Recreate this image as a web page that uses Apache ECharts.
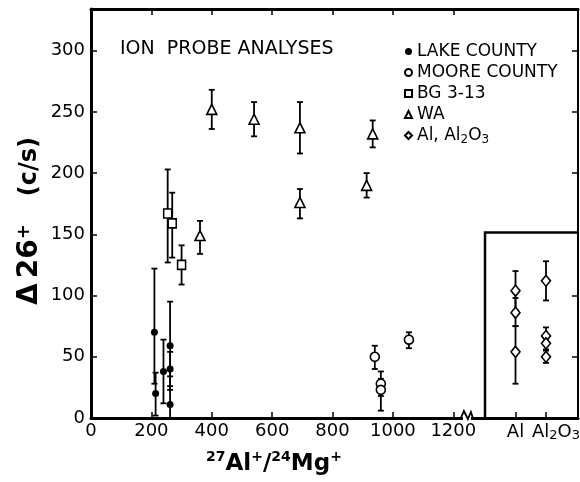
<!DOCTYPE html>
<html><head><meta charset="utf-8">
<script src="https://cdn.jsdelivr.net/npm/echarts@6/dist/echarts.min.js"></script>
<style>html,body{margin:0;padding:0;background:#fff}#c{width:580px;height:482px}</style>
</head><body><div id="c"></div>
<script>
// ---- tick labels / categories ----
const xTickValues = [0, 200, 400, 600, 800, 1000, 1200];
const yTickValues = [0, 50, 100, 150, 200, 250, 300];
const sampleCategories = ['Al', 'Al2O3'];
const sampleCategoryX = [1406, 1507];
const seriesNames = ['LAKE COUNTY', 'MOORE COUNTY', 'BG 3-13', 'WA', 'Al, Al2O3'];

// ---- data: x, value, error low, error high ----
const lakeX  = [210, 214, 240, 262, 262, 262];
const lakeY  = [70, 20, 38, 59, 40, 11];
const lakeLo = [28, 2, 12, 23, 26, 0];
const lakeHi = [122, 37, 64, 95, 54, 34];

const mooreX  = [940, 960, 960, 1053];
const mooreY  = [50, 28, 23, 64];
const mooreLo = [40, 18, 6, 57];
const mooreHi = [59, 38, 32, 70];

const bgX  = [254, 269, 300];
const bgY  = [167, 159, 125];
const bgLo = [127, 131, 109];
const bgHi = [203, 184, 141];

const waX  = [361, 400, 540, 692, 692, 913, 933];
const waY  = [149, 252, 244, 237, 176, 190, 232];
const waLo = [134, 236, 230, 216, 163, 180, 221];
const waHi = [161, 268, 258, 258, 187, 200, 243];

const alX  = [1406, 1406, 1406, 1507, 1507, 1507, 1507];
const alY  = [104, 86, 54, 112, 67, 61, 50];
const alLo = [88, 75, 28, 96, 61, 55, 45];
const alHi = [120, 98, 75, 128, 74, 67, 56];

// ---- frame decoration constants ----
const X_MAX = 1613, Y_MAX = 334;
const BOX_LEFT = 1305, BOX_TOP = 151.5, BREAK_X = 1245;

const FONT = 'DejaVu Sans';
const groups = [
  {name: seriesNames[0], x: lakeX, y: lakeY, lo: lakeLo, hi: lakeHi, symbol: 'circle', size: 7, fill: '#000'},
  {name: seriesNames[1], x: mooreX, y: mooreY, lo: mooreLo, hi: mooreHi, symbol: 'circle', size: 9, fill: '#fff'},
  {name: seriesNames[2], x: bgX, y: bgY, lo: bgLo, hi: bgHi, symbol: 'rect', size: [8, 9], fill: '#fff'},
  {name: seriesNames[3], x: waX, y: waY, lo: waLo, hi: waHi, symbol: 'triangle', size: [10, 10], fill: '#fff'},
  {name: seriesNames[4], x: alX, y: alY, lo: alLo, hi: alHi, symbol: 'diamond', size: [9, 11], fill: '#fff'}
];

const errData = [];
groups.forEach(g => g.x.forEach((x, i) => errData.push([x, g.lo[i], g.hi[i]])));

function errRender(params, api) {
  const x = api.value(0), lo = api.value(1), hi = api.value(2);
  const a = api.coord([x, lo]), b = api.coord([x, hi]);
  const w = 3, st = {stroke: '#000', lineWidth: 1.8};
  const ch = [
    {type: 'line', shape: {x1: a[0], y1: a[1], x2: b[0], y2: b[1]}, style: st},
    {type: 'line', shape: {x1: b[0] - w, y1: b[1], x2: b[0] + w, y2: b[1]}, style: st}
  ];
  if (lo > 0) ch.push({type: 'line', shape: {x1: a[0] - w, y1: a[1], x2: a[0] + w, y2: a[1]}, style: st});
  return {type: 'group', children: ch};
}

const xTickAll = xTickValues.concat(sampleCategoryX);

const series = [{
  type: 'custom', renderItem: errRender, data: errData, z: 2, silent: true,
  encode: {x: 0, y: [1, 2]}
}];
groups.forEach(g => series.push({
  type: 'scatter', name: g.name, symbol: g.symbol, symbolSize: g.size, z: 5,
  data: g.x.map((x, i) => [x, g.y[i]]),
  itemStyle: {color: g.fill, borderColor: '#000', borderWidth: g.fill === '#000' ? 0 : 1.6, opacity: 1}
}));

const chart = echarts.init(document.getElementById('c'), null, {renderer: 'canvas'});
chart.setOption({
  animation: false,
  backgroundColor: '#fff',
  textStyle: {fontFamily: FONT, color: '#000'},
  grid: {left: 91, right: 2, top: 9, bottom: 64},
  xAxis: [{
    type: 'value', min: 0, max: X_MAX, position: 'bottom',
    axisLine: {onZero: false, lineStyle: {color: '#000', width: 3}},
    axisTick: {inside: true, length: 6, customValues: xTickAll, lineStyle: {color: '#000', width: 1.5}},
    axisLabel: {customValues: xTickValues, formatter: v => String(v), margin: 4, color: '#000', fontFamily: FONT, fontSize: 18},
    splitLine: {show: false}
  }, {
    type: 'value', min: 0, max: X_MAX, position: 'top',
    axisLine: {onZero: false, lineStyle: {color: '#000', width: 3}},
    axisTick: {inside: true, length: 6, customValues: xTickValues.slice(1), lineStyle: {color: '#000', width: 1.5}},
    axisLabel: {show: false}, splitLine: {show: false}
  }],
  yAxis: [{
    type: 'value', min: 0, max: Y_MAX, position: 'left',
    axisLine: {show: true, onZero: false, lineStyle: {color: '#000', width: 3}},
    axisTick: {show: true, inside: true, length: 6, customValues: yTickValues, lineStyle: {color: '#000', width: 1.5}},
    axisLabel: {customValues: yTickValues, formatter: v => String(v), margin: 6, color: '#000', fontFamily: FONT, fontSize: 18},
    splitLine: {show: false}
  }, {
    type: 'value', min: 0, max: Y_MAX, position: 'right',
    axisLine: {show: true, onZero: false, lineStyle: {color: '#000', width: 2}},
    axisTick: {show: true, inside: true, length: 6, customValues: [50, 100, 200, 250, 300], lineStyle: {color: '#000', width: 1.5}},
    axisLabel: {show: false}, splitLine: {show: false}
  }],
  legend: {
    data: seriesNames, orient: 'vertical', left: 399, top: 38, itemWidth: 7, itemHeight: 7, itemGap: 4,
    selectedMode: false, inactiveColor: '#000',
    formatter: n => n === 'Al, Al2O3' ? '{a|Al, Al}{s|2}{a|O}{s|3}' : '{a|' + n + '}',
    textStyle: {color: '#000', fontFamily: FONT, fontSize: 17,
      rich: {a: {fontSize: 17, lineHeight: 20, fontFamily: FONT, color: '#000'},
             s: {fontSize: 12, lineHeight: 8, verticalAlign: 'bottom', fontFamily: FONT, color: '#000'}}}
  },
  series: series
});

const p = (x, y) => chart.convertToPixel({xAxisIndex: 0, yAxisIndex: 0}, [x, y]);
const b0 = p(BOX_LEFT, 0), b1 = p(BOX_LEFT, BOX_TOP), b2 = p(X_MAX, BOX_TOP);
const br = p(BREAK_X, 0);
const catLabels = sampleCategories.map((c, k) => {
  const q = p(sampleCategoryX[k], 0);
  const isOx = c === 'Al2O3';
  return {type: 'text', z: 10, x: isOx ? q[0] - 14 : q[0], y: q[1] + 4,
    style: {text: isOx ? '{n|Al}{s|2}{n|O}{s|3}' : '{n|' + c + '}', align: isOx ? 'left' : 'center', verticalAlign: 'top', fill: '#000',
      rich: {n: {fontSize: 18, lineHeight: 20, fontFamily: FONT}, s: {fontSize: 13, lineHeight: 9, verticalAlign: 'bottom', fontFamily: FONT}}}};
});
chart.setOption({
  graphic: [
    {type: 'polyline', z: 10, shape: {points: [b0, b1, b2]}, style: {stroke: '#000', lineWidth: 2.5, fill: null}},
    {type: 'rect', z: 10, shape: {x: br[0] - 4, y: br[1] - 2, width: 8, height: 4}, style: {fill: '#fff'}},
    {type: 'polyline', z: 11, shape: {points: [[br[0] - 6, br[1]], [br[0] - 3, br[1] - 7], [br[0] + 1, br[1] + 1], [br[0] + 4, br[1] - 6], [br[0] + 6, br[1]]]},
      style: {stroke: '#000', lineWidth: 1.8, fill: null}},
    {type: 'text', z: 10, x: 120, y: 49, style: {text: 'ION  PROBE ANALYSES', font: '19px "DejaVu Sans"', fill: '#000', verticalAlign: 'middle'}},
    {type: 'text', z: 10, x: 30, y: 221, rotation: Math.PI / 2,
      style: {text: '{d|Δ}{g| }{d|26}{p|+}{sp| }{c|(c/s)}', align: 'center', verticalAlign: 'middle', fill: '#000',
        rich: {
          d: {fontSize: 28, fontWeight: 'bold', fontFamily: FONT, lineHeight: 30},
          g: {fontSize: 8, width: 5, lineHeight: 30},
          p: {fontSize: 18, fontWeight: 'bold', fontFamily: FONT, lineHeight: 14, verticalAlign: 'top'},
          sp: {fontSize: 8, width: 28, lineHeight: 30},
          c: {fontSize: 24, fontWeight: 'bold', fontFamily: FONT, lineHeight: 30}
        }}},
    {type: 'text', z: 10, x: 274, y: 464,
      style: {text: '{s|27}{b|Al}{s|+}{b|/}{s|24}{b|Mg}{s|+}', align: 'center', verticalAlign: 'middle', fill: '#000',
        rich: {
          b: {fontSize: 23, fontWeight: 'bold', fontFamily: FONT, lineHeight: 28},
          s: {fontSize: 14, fontWeight: 'bold', fontFamily: FONT, lineHeight: 14, verticalAlign: 'top'}
        }}}
  ].concat(catLabels)
});
</script></body></html>
